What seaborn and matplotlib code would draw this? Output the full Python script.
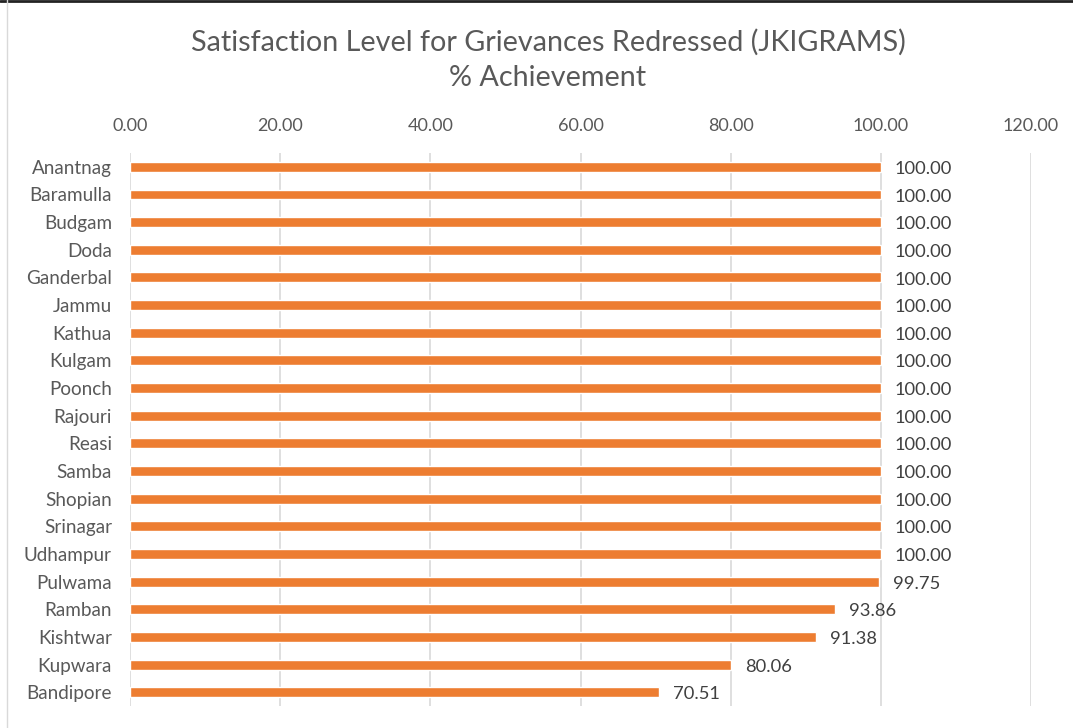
import matplotlib
matplotlib.use("Agg")
import matplotlib.pyplot as plt
from matplotlib.lines import Line2D
import seaborn as sns
import pandas as pd

districts = ["Anantnag", "Baramulla", "Budgam", "Doda", "Ganderbal", "Jammu",
             "Kathua", "Kulgam", "Poonch", "Rajouri", "Reasi", "Samba",
             "Shopian", "Srinagar", "Udhampur", "Pulwama", "Ramban",
             "Kishtwar", "Kupwara", "Bandipore"]
achievement = [100.00, 100.00, 100.00, 100.00, 100.00, 100.00, 100.00, 100.00,
               100.00, 100.00, 100.00, 100.00, 100.00, 100.00, 100.00, 99.75,
               93.86, 91.38, 80.06, 70.51]
x_ticks = [0, 20, 40, 60, 80, 100, 120]
title_lines = ["Satisfaction Level for Grievances Redressed (JKIGRAMS)", "% Achievement"]

df = pd.DataFrame({"District": districts, "Achievement": achievement})

sns.set_theme(style="white")
plt.rcParams["font.family"] = ["Lato", "DejaVu Sans"]

fig = plt.figure(figsize=(10.73, 7.28), dpi=100)
ax = fig.add_axes([0.1212, 0.0302, 0.8397, 0.7596])

sns.barplot(data=df, x="Achievement", y="District", orient="h",
            color="#ED7D31", saturation=1, width=0.36, ax=ax, zorder=3)

ax.set_xlim(0, 120)
ax.set_xticks(x_ticks)
ax.set_xticklabels([f"{v:.2f}" for v in x_ticks])
ax.xaxis.tick_top()
ax.tick_params(axis="x", length=0, pad=14, labelsize=13, labelcolor="#595959")
ax.tick_params(axis="y", length=0, pad=13, labelsize=13.6, labelcolor="#595959")
ax.set_xlabel("")
ax.set_ylabel("")
for s in ax.spines.values():
    s.set_visible(False)
ax.grid(axis="x", color="#D9D9D9", linewidth=1.2, zorder=0)
ax.grid(axis="y", visible=False)

for i, v in enumerate(achievement):
    ax.annotate(f"{v:.2f}", xy=(v, i), xytext=(10, -1.5), textcoords="offset points",
                va="center", ha="left", fontsize=13.2, color="#404040")

title_x = 548 / 1073
fig.text(title_x, 1 - 42 / 728, title_lines[0], ha="center", va="center",
         fontsize=20.7, color="#595959")
fig.text(title_x, 1 - 78 / 728, title_lines[1], ha="center", va="center",
         fontsize=20.7, color="#595959")

# frame edges of the chart area
fig.add_artist(Line2D([0, 1], [0.998, 0.998], transform=fig.transFigure,
                      color="#222222", linewidth=2))
fig.add_artist(Line2D([7 / 1073, 7 / 1073], [0, 1], transform=fig.transFigure,
                      color="#D9D9D9", linewidth=1))

fig.savefig("out.png", dpi=100)
